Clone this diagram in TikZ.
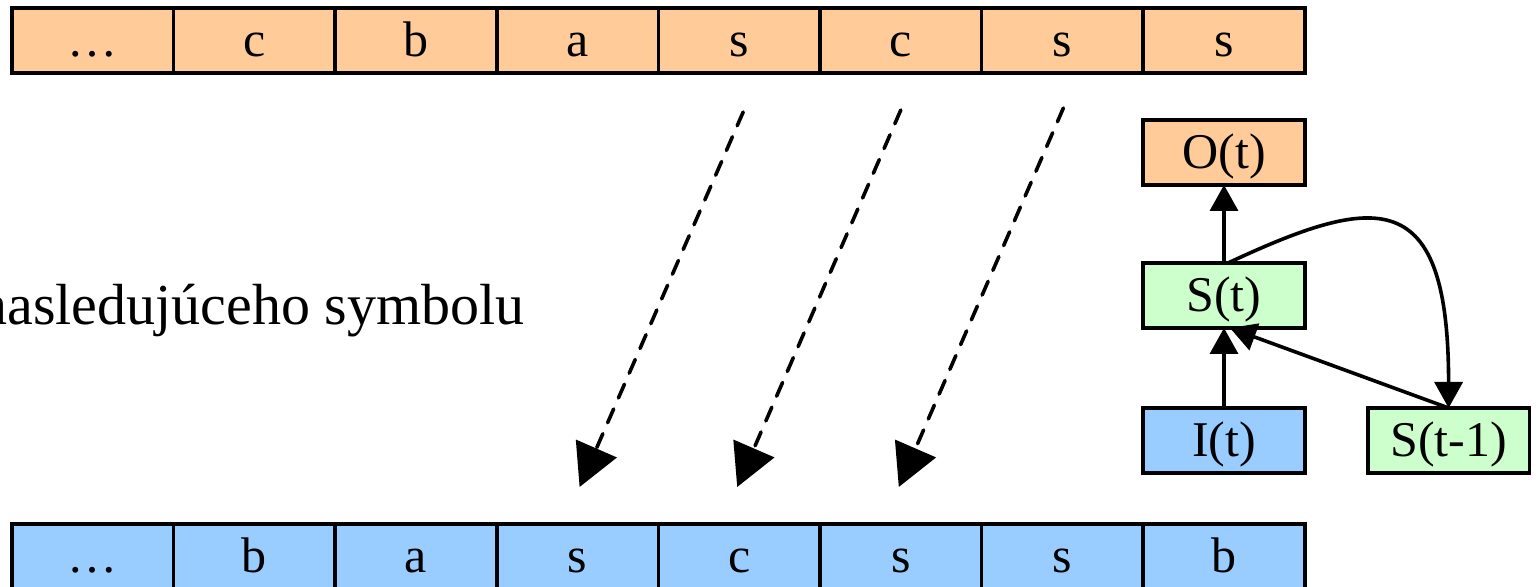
\documentclass[tikz,border=0pt]{standalone}
\usepackage{fontspec}
\setmainfont{Liberation Serif}
\usetikzlibrary{positioning}
\usetikzlibrary{arrows.meta}

\definecolor{outorange}{HTML}{FFCC99}
\definecolor{inblue}{HTML}{99CCFF}
\definecolor{stgreen}{HTML}{CCFFCC}

\begin{document}
\begin{tikzpicture}[->,>={Triangle[length=13pt,width=14pt]},line width=1.8pt,
		cell/.style={draw, rectangle, outer sep=0pt, inner sep=0pt, minimum width=80.8pt, minimum height=32.5pt,
			text height=20pt, text depth=4pt, font=\fontsize{25}{30}\selectfont},
		out_cell/.style={cell, fill=outorange},
		in_cell/.style={cell, fill=inblue},
		state_cell/.style={cell, fill=stgreen},
		shift_arrow/.style={>={Triangle[length=21pt,width=22pt]}, dash pattern=on 7.5pt off 6pt, line cap=round}]
		\useasboundingbox (0,0) rectangle (769.5pt,-293.5pt);

		%% Nodes
		% Output sequence
		\begin{scope}
			\node (top_1) at (46.4pt,-20.25pt) [out_cell] {…};
			\node (top_2) [out_cell, right = 0pt of top_1] {c};
			\node (top_3) [out_cell, right = 0pt of top_2] {b};
			\node (top_4) [out_cell, right = 0pt of top_3] {a};
			\node (top_5) [out_cell, right = 0pt of top_4] {s};
			\node (top_6) [out_cell, right = 0pt of top_5] {c};
			\node (top_7) [out_cell, right = 0pt of top_6] {s};
			\node (top_8) [out_cell, right = 0pt of top_7] {s};
		\end{scope}

		% Input sequence
		\begin{scope}
			\node (bot_1) [in_cell, below = 225.5pt of top_1] {…};
			\node (bot_2) [in_cell, right = 0pt of bot_1] {b};
			\node (bot_3) [in_cell, right = 0pt of bot_2] {a};
			\node (bot_4) [in_cell, right = 0pt of bot_3] {s};
			\node (bot_5) [in_cell, right = 0pt of bot_4] {c};
			\node (bot_6) [in_cell, right = 0pt of bot_5] {s};
			\node (bot_7) [in_cell, right = 0pt of bot_6] {s};
			\node (bot_8) [in_cell, right = 0pt of bot_7] {b};
		\end{scope}

		% Recurrent cell
		\begin{scope}
			\node (out) [out_cell, below = 23.5pt of top_8] {O(t)};
			\node (state) [state_cell, below = 39pt of out] {S(t)};
			\node (input) [in_cell, below = 40pt of state] {I(t)};
			\node (state_prev) [state_cell, right = 31.5pt of input] {S(t-1)};
		\end{scope}

		\node (caption) at (266.5pt,-162.5pt) [anchor=base east, font=\fontsize{29}{35}\selectfont] {nasledujúceho symbolu};

		%% Edges
		\draw[shift_arrow] ([xshift=2pt, yshift=-19.5pt]top_5.south) -- ([xshift=1pt, yshift=18.5pt]bot_4.north);
		\draw[shift_arrow] ([yshift=-18.5pt]top_6.south) -- ([xshift=-1pt, yshift=18.5pt]bot_5.north);
		\draw[shift_arrow] ([xshift=0.5pt, yshift=-17.5pt]top_7.south) -- ([xshift=-1pt, yshift=18.5pt]bot_6.north);

		\draw (input) -- (state);
		\draw (state) -- (out);
		\draw (state_prev.north) -- ([xshift=3pt]state.south);
		\draw ([xshift=2pt]state.north) .. controls +(25:82pt) and +(0,112pt) .. (state_prev.north);
	\end{tikzpicture}
\end{document}
